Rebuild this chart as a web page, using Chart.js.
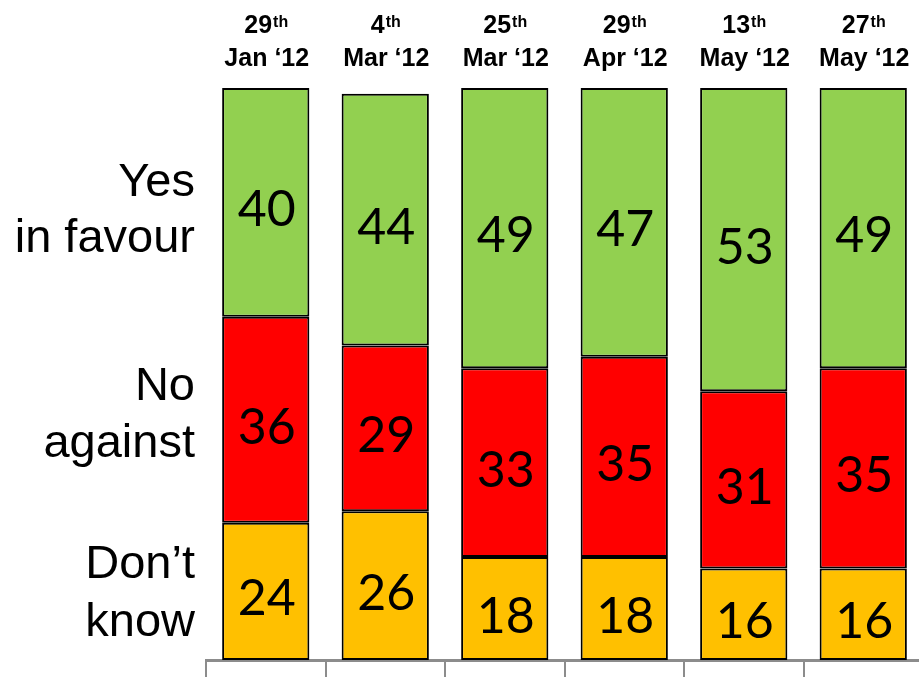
<!DOCTYPE html>
<html>
<head>
<meta charset="utf-8">
<script src="https://cdn.jsdelivr.net/npm/chart.js@4/dist/chart.umd.min.js"></script>
<style>
  html, body { margin: 0; padding: 0; background: #ffffff; overflow: hidden; }
  #wrap { width: 919px; height: 677px; overflow: hidden; position: relative; }
  canvas { display: block; }
</style>
</head>
<body>
<div id="wrap"><canvas id="c" width="923" height="677"></canvas></div>
<script>
// ---- Data ----
const dayNumbers = ["29", "4", "25", "29", "13", "27"];
const daySuffixes = ["th", "th", "th", "th", "th", "th"];
const monthLabels = ["Jan \u201812", "Mar \u201812", "Mar \u201812", "Apr \u201812", "May \u201812", "May \u201812"];
const categories = dayNumbers.map((d, i) => d + daySuffixes[i] + " " + monthLabels[i]);

const yesValues = [40, 44, 49, 47, 53, 49];
const noValues = [36, 29, 33, 35, 31, 35];
const dontKnowValues = [24, 26, 18, 18, 16, 16];

const seriesNames = ["Don\u2019t know", "No against", "Yes in favour"];
const rowLabels = [["Yes", "in favour"], ["No", "against"], ["Don\u2019t", "know"]];

// ---- Plugins ----
const valueLabelPlugin = {
  id: 'valueLabels',
  afterDatasetsDraw(chart) {
    const ctx = chart.ctx;
    ctx.save();
    ctx.fillStyle = '#000000';
    ctx.font = '400 50px Lato';
    ctx.textAlign = 'center';
    ctx.textBaseline = 'alphabetic';
    chart.data.datasets.forEach((ds, di) => {
      const meta = chart.getDatasetMeta(di);
      meta.data.forEach((el, i) => {
        const p = el.getProps(['x', 'y', 'base'], true);
        const cy = (p.y + p.base) / 2;
        ctx.fillText(String(ds.data[i]), p.x + 1, cy + 24);
      });
    });
    ctx.restore();
  }
};

const headerPlugin = {
  id: 'headers',
  afterDraw(chart) {
    const ctx = chart.ctx;
    const meta = chart.getDatasetMeta(0);
    ctx.save();
    ctx.fillStyle = '#000000';
    ctx.textBaseline = 'alphabetic';
    meta.data.forEach((el, i) => {
      const x = el.x;
      ctx.font = 'bold 25px "Liberation Sans"';
      const wNum = ctx.measureText(dayNumbers[i]).width;
      ctx.font = 'bold 16px "Liberation Sans"';
      const wSup = ctx.measureText(daySuffixes[i]).width;
      const start = x - (wNum + wSup) / 2;
      ctx.textAlign = 'left';
      ctx.font = 'bold 25px "Liberation Sans"';
      ctx.fillText(dayNumbers[i], start, 33);
      ctx.font = 'bold 16px "Liberation Sans"';
      ctx.fillText(daySuffixes[i], start + wNum + 1, 27);
      ctx.textAlign = 'center';
      ctx.font = 'bold 25px "Liberation Sans"';
      ctx.fillText(monthLabels[i], x + 1, 66);
    });
    // Row labels on the left
    const baselines = [[196, 252], [400, 457], [578, 636]];
    ctx.font = '47px "Liberation Sans"';
    ctx.textAlign = 'right';
    rowLabels.forEach((lines, r) => {
      lines.forEach((t, k) => ctx.fillText(t, 195, baselines[r][k]));
    });
    ctx.restore();
  }
};

// ---- Chart ----
const ctx = document.getElementById('c').getContext('2d');
new Chart(ctx, {
  type: 'bar',
  data: {
    labels: categories,
    datasets: [
      { label: seriesNames[0], data: dontKnowValues, backgroundColor: '#FFC000' },
      { label: seriesNames[1], data: noValues, backgroundColor: '#FF0000' },
      { label: seriesNames[2], data: yesValues, backgroundColor: '#92D050' }
    ]
  },
  options: {
    responsive: false,
    devicePixelRatio: 1,
    animation: false,
    layout: { padding: { left: 206, top: 88, right: 0, bottom: 0 } },
    datasets: {
      bar: {
        borderColor: '#000000',
        borderWidth: 2,
        borderSkipped: false,
        categoryPercentage: 1.0,
        barPercentage: 0.73
      }
    },
    plugins: {
      legend: { display: false },
      tooltip: { enabled: false },
      title: { display: false }
    },
    scales: {
      x: {
        stacked: true,
        offset: true,
        grid: {
          display: true,
          offset: true,
          drawOnChartArea: false,
          drawTicks: true,
          tickLength: 17,
          color: '#8C8C8C',
          lineWidth: 2
        },
        border: { display: true, color: '#8C8C8C', width: 3 },
        ticks: { display: false }
      },
      y: {
        stacked: true,
        display: false,
        min: 0,
        max: 100
      }
    }
  },
  plugins: [valueLabelPlugin, headerPlugin]
});
</script>
</body>
</html>
